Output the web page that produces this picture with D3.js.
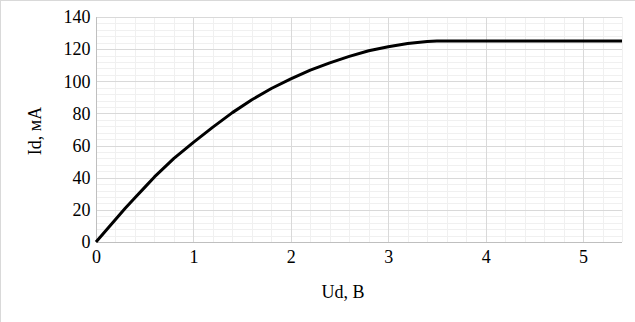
<!DOCTYPE html>
<html>
<head>
<meta charset="utf-8">
<script src="https://cdn.jsdelivr.net/npm/d3@7"></script>
<style>
  body { margin: 0; background: #fff; }
  text { font-family: "Liberation Serif", "Times New Roman", serif; fill: #000; }
</style>
</head>
<body>
<div id="chart"></div>
<script>
// measured points, Ud (V) vs Id (mA)
var ud = [0, 0.1, 0.2, 0.3, 0.4, 0.5, 0.6, 0.8, 1.0, 1.2, 1.4, 1.6, 1.8, 2.0, 2.2, 2.4, 2.6, 2.8, 3.0, 3.2, 3.4, 3.5, 4.0, 4.5, 5.0, 5.4];
var id = [0, 7, 14, 21, 27.5, 34, 40.5, 52, 62, 71.5, 80.5, 88.5, 95.5, 101.5, 107, 111.5, 115.5, 119, 121.5, 123.5, 124.8, 125, 125, 125, 125, 125];

var xTicks = [0, 1, 2, 3, 4, 5];
var yTicks = [0, 20, 40, 60, 80, 100, 120, 140];
var xLabel = "Ud, В";
var yLabel = "Id, мА";

var width = 635, height = 322;
var margin = {top: 17, right: 13, bottom: 80, left: 96};

var svg = d3.select("#chart").append("svg")
    .attr("width", width)
    .attr("height", height);

// outer frame
svg.append("rect")
    .attr("x", 0.5).attr("y", 0.5)
    .attr("width", width + 10).attr("height", height + 10)
    .attr("fill", "none")
    .attr("stroke", "#d9d9d9");

var x = d3.scaleLinear()
    .domain([0, 5.4])
    .range([margin.left, width - margin.right]);

var y = d3.scaleLinear()
    .domain([0, 140])
    .range([height - margin.bottom, margin.top]);

//
// gridlines
//
var minorX = d3.range(0, 5.4001, 0.2);
var minorY = d3.range(0, 140.001, 4);

svg.append("g")
    .selectAll("line")
    .data(minorX)
    .join("line")
    .attr("x1", function(d) { return Math.round(x(d)) + 0.5; })
    .attr("x2", function(d) { return Math.round(x(d)) + 0.5; })
    .attr("y1", y(0)).attr("y2", y(140))
    .attr("stroke", "#f0f0f0");

svg.append("g")
    .selectAll("line")
    .data(minorY)
    .join("line")
    .attr("y1", function(d) { return Math.round(y(d)) + 0.5; })
    .attr("y2", function(d) { return Math.round(y(d)) + 0.5; })
    .attr("x1", x(0)).attr("x2", x(5.4))
    .attr("stroke", "#f0f0f0");

svg.append("g")
    .selectAll("line")
    .data(xTicks)
    .join("line")
    .attr("x1", function(d) { return Math.round(x(d)) + 0.5; })
    .attr("x2", function(d) { return Math.round(x(d)) + 0.5; })
    .attr("y1", y(0)).attr("y2", y(140))
    .attr("stroke", "#d9d9d9");

svg.append("g")
    .selectAll("line")
    .data(yTicks)
    .join("line")
    .attr("y1", function(d) { return Math.round(y(d)) + 0.5; })
    .attr("y2", function(d) { return Math.round(y(d)) + 0.5; })
    .attr("x1", x(0)).attr("x2", x(5.4))
    .attr("stroke", "#d9d9d9");

// axes
var xAxis = svg.append("g")
    .attr("transform", "translate(0," + (Math.round(y(0)) + 0.5) + ")")
    .call(d3.axisBottom(x).tickValues(xTicks).tickFormat(d3.format("d")).tickSize(0).tickPadding(8));
xAxis.select(".domain").attr("stroke", "#bfbfbf").attr("d", "M" + x(0) + ",0H" + x(5.4));

var yAxis = svg.append("g")
    .attr("transform", "translate(" + (Math.round(x(0)) + 0.5) + ",0)")
    .call(d3.axisLeft(y).tickValues(yTicks).tickFormat(d3.format("d")).tickSize(0).tickPadding(6));
yAxis.select(".domain").attr("stroke", "#bfbfbf").attr("d", "M0," + y(0) + "V" + y(140));

svg.selectAll(".tick text")
    .style("font-family", "'Liberation Serif', serif")
    .style("font-size", "18px")
    .attr("fill", "#000");

// curve
svg.append("path")
    .datum(ud.map(function(d, i) { return [d, id[i]]; }))
    .attr("fill", "none")
    .attr("stroke", "#000")
    .attr("stroke-width", 3)
    .attr("stroke-linejoin", "round")
    .attr("d", d3.line()
        .x(function(d) { return x(d[0]); })
        .y(function(d) { return y(d[1]); }));

// axis titles
svg.append("text")
    .attr("x", 343)
    .attr("y", 298)
    .attr("text-anchor", "middle")
    .style("font-size", "18px")
    .text(xLabel);

svg.append("text")
    .attr("transform", "translate(41,131) rotate(-90)")
    .attr("text-anchor", "middle")
    .style("font-size", "18px")
    .text(yLabel);
</script>
</body>
</html>
